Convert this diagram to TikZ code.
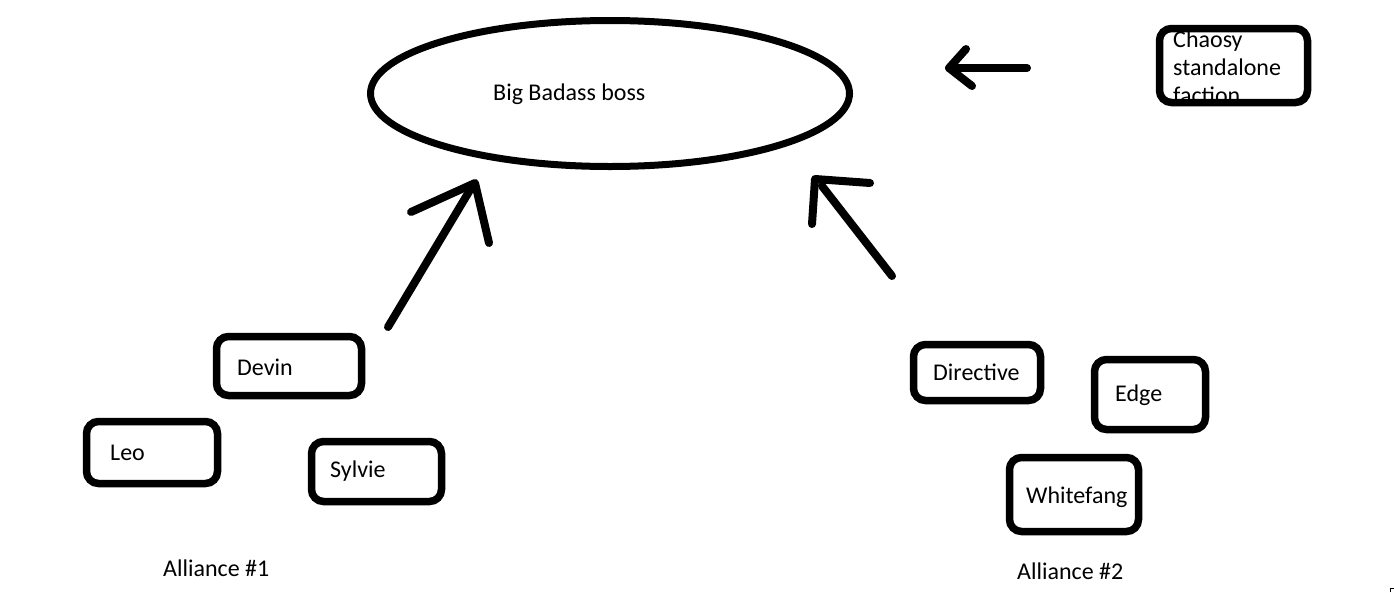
\documentclass[tikz,border=0pt]{standalone}
\usepackage{fontspec}
\setmainfont{Carlito}
\usetikzlibrary{shapes.geometric}
\begin{document}
\begin{tikzpicture}[x=1pt,y=-1pt,
  box/.style={draw,line width=7.5pt,rounded corners=12pt,inner sep=0pt},
  lbl/.style={anchor=base west,inner sep=0pt,font=\fontsize{24}{28}\selectfont},
  stroke/.style={line width=8pt,line cap=round,line join=round}]
\useasboundingbox[fill=white] (0,0) rectangle (1394,592);
% boss
\node[draw,ellipse,line width=7pt,minimum width=479pt,minimum height=146pt,inner sep=0pt] (boss) at (610,93.5) {};
\node[lbl] (bosst) at (493,100) {Big Badass boss};
% chaos faction
\node[lbl,align=left] (chaost) at (1173,103) {Chaosy\\standalone\\faction};
\node[box,minimum width=148pt,minimum height=74pt] (chaos) at (1233.5,65.5) {};
% alliance 1
\node[box,minimum width=145pt,minimum height=59pt] (devin) at (289,366) {};
\node[lbl] at (237,375) {Devin};
\node[box,minimum width=131pt,minimum height=62pt] (leo) at (152,452.5) {};
\node[lbl] at (110,460) {Leo};
\node[box,minimum width=130pt,minimum height=60pt] (sylvie) at (376.5,471.5) {};
\node[lbl] at (330,477) {Sylvie};
\node[lbl] (a1) at (163,576) {Alliance \#1};
% alliance 2
\node[box,minimum width=127pt,minimum height=56pt] (directive) at (977,372.5) {};
\node[lbl] at (933,380) {Directive};
\node[box,minimum width=111pt,minimum height=70pt] (edge) at (1150,394.5) {};
\node[lbl] at (1115,401) {Edge};
\node[box,minimum width=129pt,minimum height=74pt] (whitefang) at (1074,494.5) {};
\node[lbl] at (1026,503) {Whitefang};
\node[lbl] (a2) at (1017,579) {Alliance \#2};
% arrows (hand drawn)
\coordinate (t1) at (475,183);
\coordinate (s1) at (388,327);
\coordinate (b1a) at (411,212);
\coordinate (b1b) at (489,243);
\draw[stroke] (s1) -- (470,190);
\draw[stroke] (b1a) -- (t1) -- (b1b);
\coordinate (t2) at (815,179);
\coordinate (s2) at (892,276);
\coordinate (b2a) at (870,183);
\coordinate (b2b) at (812,224);
\draw[stroke] (s2) -- (822,186);
\draw[stroke] (b2a) -- (t2) -- (b2b);
\coordinate (t3) at (949,68);
\coordinate (s3) at (1027,68);
\coordinate (b3a) at (966,49);
\coordinate (b3b) at (972,86);
\draw[stroke] (s3) -- (t3);
\draw[stroke] (b3a) -- (t3) -- (b3b);
% corner mark
\draw[line width=1pt] (1390,592) -- (1390,588.5) -- (1394,588.5);
\end{tikzpicture}
\end{document}
